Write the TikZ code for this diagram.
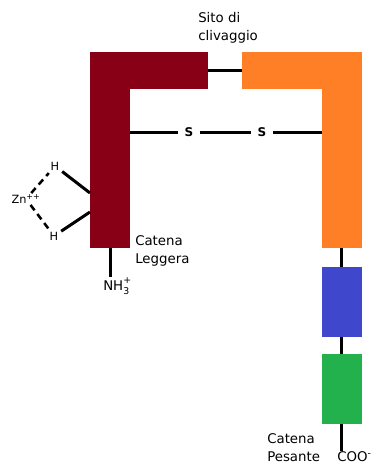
\documentclass[tikz,border=0pt]{standalone}
\usepackage{fontspec}
\setmainfont{DejaVu Sans}
\usepackage{tikz}
\definecolor{catleggera}{HTML}{880015}
\definecolor{catpesante}{HTML}{FF7F27}
\definecolor{dominioA}{HTML}{3F48CC}
\definecolor{dominioB}{HTML}{22B14C}

\begin{document}
\begin{tikzpicture}[x=0.75pt, y=-0.75pt,
    block/.style={rectangle, inner sep=0pt, outer sep=0pt, draw=none},
    bond/.style={line width=2.25pt},
    label/.style={inner sep=0pt, align=left, font=\fontsize{10}{13.5}\selectfont},
    atom/.style={inner sep=2pt, font=\fontsize{8.5}{9}\selectfont}]
    \useasboundingbox (0,0) rectangle (374,464);

    % Light chain
    \node[block, fill=catleggera, minimum width=88.5pt, minimum height=27.75pt] (lcarm) at (149,70.5) {};
    \node[block, fill=catleggera, minimum width=30pt, minimum height=147pt] (lcbar) at (110,150) {};

    % Heavy chain
    \node[block, fill=catpesante, minimum width=89.25pt, minimum height=27.75pt] (hcarm) at (301.5,70.5) {};
    \node[block, fill=catpesante, minimum width=30pt, minimum height=147pt] (hcbar) at (341.5,150) {};
    \node[block, fill=dominioA, minimum width=30pt, minimum height=52.5pt] (dom1) at (341.5,302) {};
    \node[block, fill=dominioB, minimum width=30pt, minimum height=52.5pt] (dom2) at (341.5,389) {};

    % Labels
    \node[label, anchor=north west] (sito) at (198,12) {Sito di\\clivaggio};
    \node[label, anchor=north west] (leggera) at (135,235) {Catena\\Leggera};
    \node[label, anchor=north west] (pesante) at (267,433) {Catena\\Pesante};
    \node[label, anchor=base west] (nh3) at (103,290)
        {NH\rlap{\raisebox{0.9ex}{\scriptsize+}}\raisebox{-0.6ex}{\scriptsize 3}};
    \node[label, anchor=base west] (coo) at (337,461) {COO\textsuperscript{-}};

    % Disulfide bridge
    \node[atom, font=\fontsize{9}{10}\selectfont\bfseries, inner sep=4.5pt] (s1) at (189,132) {S};
    \node[atom, font=\fontsize{9}{10}\selectfont\bfseries, inner sep=4.5pt] (s2) at (262,132) {S};

    % Zinc site
    \node[atom] (h1) at (55,166) {H};
    \node[atom] (h2) at (54,236) {H};
    \node[atom, inner sep=1pt] (zn) at (26,199) {Zn\textsuperscript{++}};
    \coordinate (b1) at (90,193);
    \coordinate (b2) at (90,212);

    % Connectors
    \draw[bond] (lcarm.east) -- (hcarm.west);
    \draw[bond] (lcbar.east |- s1) -- (s1) -- (s2) -- (hcbar.west |- s2);
    \draw[bond] (hcbar.south) -- (dom1.north);
    \draw[bond] (dom1.south) -- (dom2.north);
    \draw[bond] (dom2.south) -- (dom2.south |- coo.north);
    \draw[bond] (lcbar.south) -- (lcbar.south |- nh3.north);
    \draw[bond] (h1) -- (b1);
    \draw[bond] (h2) -- (b2);
    \foreach \h in {h1,h2}
        \draw[line width=1.9pt, dash pattern=on 5pt off 3.5pt] (zn) -- (\h);
\end{tikzpicture}
\end{document}
